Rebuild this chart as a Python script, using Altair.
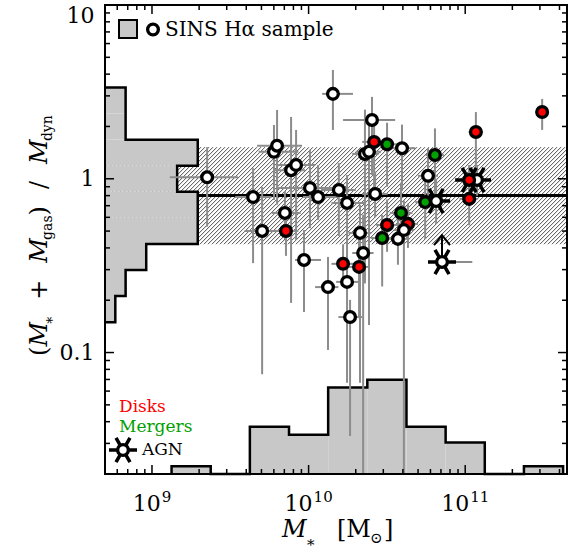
import altair as alt
import numpy as np
import pandas as pd

FONT = "DejaVu Serif"

# ---------------- data ----------------
# stellar mass [Msun], mass ratio, error ranges, class, AGN flag, lower-limit flag
mstar = [1.43e10, 2.25e9, 6.01e9, 6.29e9, 7.73e9, 8.32e9, 1.02e10, 1.15e10, 1.56e10, 1.76e10,
         4.42e9, 7.06e9, 5.05e9, 7.17e9, 9.35e9, 1.66e10, 2.10e10, 2.13e10, 2.23e10, 1.76e10,
         1.33e10, 1.84e10, 3.17e10, 4.31e10, 3.89e10, 2.95e10, 3.72e10, 4.06e10, 5.55e10, 6.52e10,
         7.11e10, 1.06e11, 1.19e11, 1.06e11, 1.17e11, 3.10e11, 2.54e10, 2.62e10, 3.17e10, 2.29e10,
         2.43e10, 3.95e10, 6.41e10, 5.79e10, 2.66e10]
ratio = [3.08, 1.02, 1.43, 1.55, 1.12, 1.20, 0.885, 0.785, 0.862, 0.726,
         0.785, 0.636, 0.501, 0.501, 0.341, 0.324, 0.311, 0.488, 0.374, 0.255,
         0.238, 0.160, 0.542, 0.550, 0.636, 0.456, 0.451, 0.507, 0.734, 0.744,
         0.332, 0.766, 0.984, 0.984, 1.86, 2.42, 2.18, 1.63, 1.58, 1.39,
         1.43, 1.50, 1.37, 1.04, 0.818]
mstar_lo = [1.22e10, 1.30e9, 4.8e9, 4.69e9, 6.0e9, 6.4e9, 6.38e9, 9.2e9, 1.2e10, 1.4e10,
            3.4e9, 5.8e9, 3.9e9, 6.1e9, 8.2e9, 1.4e10, 1.8e10, 1.8e10, 1.9e10, 1.5e10,
            1.1e10, 1.55e10, 2.7e10, 3.7e10, 3.3e10, 2.5e10, 3.2e10, 3.5e10, 4.8e10, 5.6e10,
            5.96e10, 9.2e10, 1.0e11, 9.2e10, 1.05e11, 2.8e11, 1.66e10, 2.2e10, 2.7e10, 1.9e10,
            2.0e10, 3.3e10, 5.6e10, 5.0e10, 2.2e10]
mstar_hi = [1.92e10, 3.54e9, 8.6e9, 9.08e9, 9.5e9, 1.1e10, 1.79e10, 1.55e10, 2.0e10, 2.3e10,
            5.8e9, 8.9e9, 6.4e9, 8.6e9, 1.2e10, 2.0e10, 2.4e10, 2.5e10, 2.6e10, 2.1e10,
            1.55e10, 2.2e10, 3.7e10, 5.0e10, 4.6e10, 3.5e10, 4.4e10, 4.7e10, 6.4e10, 7.6e10,
            1.11e11, 1.2e11, 1.4e11, 1.2e11, 1.3e11, 3.4e11, 3.57e10, 3.1e10, 3.7e10, 2.8e10,
            2.9e10, 4.8e10, 7.3e10, 6.7e10, 3.2e10]
ratio_lo = [1.91, 0.53, 0.755, 0.71, 0.193, 0.445, 0.52, 0.58, 0.469, 0.332,
            0.327, 0.45, 0.075, 0.36, 0.171, 0.24, 0.16, 0.067, 0.01, 0.067,
            0.1035, 0.0331, 0.38, 0.40, 0.42, 0.24, 0.32, 0.01, 0.45, 0.55,
            0.332, 0.54, 0.8, 0.8, 0.984, 1.91, 1.05, 0.8, 0.9, 0.25,
            0.144, 0.85, 0.74, 0.8, 0.6]
ratio_hi = [4.23, 1.52, 2.04, 2.49, 2.27, 1.91, 1.47, 1.20, 1.23, 1.05,
            1.15, 0.85, 0.897, 0.61, 0.507, 0.42, 0.45, 0.706, 0.62, 0.364,
            0.355, 0.201, 0.76, 0.72, 0.95, 0.62, 0.62, 0.75, 1.05, 1.0,
            0.332, 0.984, 1.2, 1.2, 2.42, 2.88, 2.96, 2.3, 2.1, 2.5,
            2.3, 2.05, 1.95, 1.5, 1.1]
kind = ["none", "none", "none", "none", "none", "none", "none", "none", "none", "none",
        "none", "none", "none", "disk", "none", "disk", "disk", "none", "none", "none",
        "none", "none", "disk", "disk", "merger", "merger", "none", "none", "merger", "none",
        "none", "disk", "none", "disk", "disk", "disk", "none", "disk", "merger", "none",
        "none", "none", "merger", "none", "none"]
agn = [0] * 29 + [1, 1, 0, 1, 1, 0, 0] + [0] * 9
lower_limit = [0] * 30 + [1] + [0] * 14

# median and scatter of the ratio
median_ratio = [0.8]
band_ratio = [0.42, 1.52]

# histograms (counts per bin)
bottom_edges = [9.125, 9.375, 9.625, 9.875, 10.125, 10.375, 10.625, 10.875, 11.125, 11.375, 11.625]
bottom_counts = [1, 0, 6, 5, 11, 12, 6, 4, 0, 1]
left_edges = [-0.825, -0.675, -0.525, -0.375, -0.225, -0.075, 0.075, 0.225, 0.375, 0.525]
left_counts = [1, 2, 4, 9, 9, 7, 9, 2, 2]

x_major = [1e9, 1e10, 1e11]
x_exponents = ["9", "10", "11"]
y_major = [0.1, 1, 10]

# ---------------- geometry / scales ----------------
XMIN, XMAX = 10 ** 8.7, 10 ** 11.65
YMIN, YMAX = 0.02, 10.0
W, H = 462, 469
HIST_X_PER_COUNT = 0.0658   # dex of x per count (left histogram)
HIST_Y_PER_COUNT = 0.0452   # dex of y per count (bottom histogram)

xs = alt.Scale(type="log", domain=[XMIN, XMAX], nice=False)
ys = alt.Scale(type="log", domain=[YMIN, YMAX], nice=False)

XAXIS = alt.Axis(values=x_major, ticks=False, tickSize=0, domain=False, grid=False, title=None,
                 labels=False)
YAXIS = alt.Axis(
    values=y_major, ticks=False, tickSize=0, domain=False, grid=False, title=None,
    labelExpr="format(datum.value, '~g')", labelFont=FONT, labelFontSize=22,
    labelColor="black", labelPadding=11, labelFlush=True)


def X(field, **kw):
    return alt.X(field, scale=xs, axis=XAXIS, **kw)


def Y(field, **kw):
    return alt.Y(field, scale=ys, axis=YAXIS, **kw)


pts = pd.DataFrame(dict(m=mstar, r=ratio, mlo=mstar_lo, mhi=mstar_hi, rlo=ratio_lo,
                        rhi=ratio_hi, kind=kind, agn=agn, lim=lower_limit))

layers = []

# hatched scatter band (decorative hatch lines)
lo, hi = band_ratio
px_x = W / np.log10(XMAX / XMIN)
px_y = H / np.log10(YMAX / YMIN)
dlog = (np.log10(hi) - np.log10(lo)) * px_y / px_x
step = 4.0 / px_x
starts = np.arange(np.log10(XMIN) - dlog - step, np.log10(XMAX) + step, step)
hatch = pd.DataFrame(dict(x1=10 ** starts, x2=10 ** (starts + dlog), y1=lo, y2=hi))
layers.append(alt.Chart(hatch).mark_rule(color="#505050", strokeWidth=1, clip=True).encode(
    x=X("x1:Q"), x2="x2:Q", y=Y("y1:Q"), y2="y2:Q"))

# median line
layers.append(alt.Chart(pd.DataFrame(dict(y=median_ratio))).mark_rule(color="black", strokeWidth=3).encode(
    y=Y("y:Q"), x=alt.value(0), x2=alt.value(W)))

# bottom histogram
b_lo = [10 ** e for e in bottom_edges[:-1]]
b_hi = [10 ** e for e in bottom_edges[1:]]
b_top = [10 ** (np.log10(YMIN) + c * HIST_Y_PER_COUNT) for c in bottom_counts]
bdf = pd.DataFrame(dict(x1=b_lo, x2=b_hi, top=b_top, base=YMIN))
layers.append(alt.Chart(bdf).mark_rect(color="#c8c8c8").encode(
    x=X("x1:Q"), x2="x2:Q", y=Y("base:Q"), y2="top:Q"))
bx = [b_lo[0]]
by = [YMIN]
for a, b, t in zip(b_lo, b_hi, b_top):
    bx += [a, b]
    by += [t, t]
bx.append(b_hi[-1])
by.append(YMIN)
bout = pd.DataFrame(dict(x=bx, y=by, i=range(len(bx))))
layers.append(alt.Chart(bout).mark_line(color="black", strokeWidth=2.5, strokeJoin="miter").encode(
    x=X("x:Q"), y=Y("y:Q"), order="i:Q"))

# left histogram
l_lo = [10 ** e for e in left_edges[:-1]]
l_hi = [10 ** e for e in left_edges[1:]]
l_right = [10 ** (np.log10(XMIN) + c * HIST_X_PER_COUNT) for c in left_counts]
ldf = pd.DataFrame(dict(y1=l_lo, y2=l_hi, right=l_right, base=XMIN))
layers.append(alt.Chart(ldf).mark_rect(color="#c8c8c8").encode(
    y=Y("y1:Q"), y2="y2:Q", x=X("base:Q"), x2="right:Q"))
lx = [XMIN]
ly = [l_lo[0]]
for a, b, r in zip(l_lo, l_hi, l_right):
    lx += [r, r]
    ly += [a, b]
lx.append(XMIN)
ly.append(l_hi[-1])
lout = pd.DataFrame(dict(x=lx, y=ly, i=range(len(lx))))
layers.append(alt.Chart(lout).mark_line(color="black", strokeWidth=2.5, strokeJoin="miter").encode(
    x=X("x:Q"), y=Y("y:Q"), order="i:Q"))

# error bars
err = alt.Chart(pts)
layers.append(err.mark_rule(color="#8c8c8c", strokeWidth=2, clip=True).encode(
    x=X("m:Q"), y=Y("rlo:Q"), y2="rhi:Q"))
layers.append(err.mark_rule(color="#8c8c8c", strokeWidth=2, clip=True).encode(
    x=X("mlo:Q"), x2="mhi:Q", y=Y("r:Q")))

# lower-limit arrow
lim = pts[pts.lim == 1].copy()
lim["tip"] = lim["r"] * 10 ** 0.155
layers.append(alt.Chart(lim).mark_rule(color="black", strokeWidth=2).encode(
    x=X("m:Q"), y=Y("r:Q"), y2="tip:Q"))
layers.append(alt.Chart(lim).mark_point(shape="M-0.8,1L0,0L0.8,1", size=400, filled=False,
                                        color="black", strokeWidth=2, opacity=1).encode(
    x=X("m:Q"), y=Y("tip:Q")))

STAR = "M-1,0L1,0M-0.5,-0.866L0.5,0.866M-0.5,0.866L0.5,-0.866"
layers.append(alt.Chart(pts[pts.agn == 1]).mark_point(shape=STAR, size=784, filled=False, color="black",
                                                    strokeWidth=3.5, opacity=1).encode(
    x=X("m:Q"), y=Y("r:Q")))

# data points
layers.append(alt.Chart(pts).mark_point(shape="circle", size=115, filled=True, stroke="black",
                                        strokeWidth=3.3, opacity=1).encode(
    x=X("m:Q"), y=Y("r:Q"),
    fill=alt.Fill("kind:N", scale=alt.Scale(domain=["none", "disk", "merger"],
                                            range=["white", "#ff0000", "#00a000"]), legend=None)))

# ticks on all four sides
x_minor = [k * 10.0 ** e for e in (8, 9, 10, 11) for k in range(2, 10) if XMIN < k * 10.0 ** e < XMAX]
y_minor = [k * 10.0 ** e for e in (-2, -1, 0) for k in range(2, 10) if YMIN <= k * 10.0 ** e < YMAX]
for vals, L in ((x_major, 9), (x_minor, 5)):
    d = pd.DataFrame(dict(v=vals))
    layers.append(alt.Chart(d).mark_rule(color="black", strokeWidth=1.5).encode(
        x=X("v:Q"), y=alt.value(H), y2=alt.value(H - L)))
    layers.append(alt.Chart(d).mark_rule(color="black", strokeWidth=1.5).encode(
        x=X("v:Q"), y=alt.value(0), y2=alt.value(L)))
for vals, L in ((y_major, 9), (y_minor, 5)):
    d = pd.DataFrame(dict(v=vals))
    layers.append(alt.Chart(d).mark_rule(color="black", strokeWidth=1.5).encode(
        y=Y("v:Q"), x=alt.value(0), x2=alt.value(L)))
    layers.append(alt.Chart(d).mark_rule(color="black", strokeWidth=1.5).encode(
        y=Y("v:Q"), x=alt.value(W), x2=alt.value(W - L)))

# x tick labels: "10" with a raised exponent
for v, e in zip(x_major, x_exponents):
    half = (28 + 1 + 9.5 * len(e)) / 2
    d = pd.DataFrame(dict(v=[v], base=["10"], exp=[e]))
    layers.append(alt.Chart(d).mark_text(font=FONT, fontSize=22, align="right", baseline="alphabetic",
                                         dx=28 - half, color="black").encode(
        x=X("v:Q"), y=alt.value(506), text="base:N"))
    layers.append(alt.Chart(d).mark_text(font=FONT, fontSize=15, align="left", baseline="alphabetic",
                                         dx=29 - half, color="black").encode(
        x=X("v:Q"), y=alt.value(497), text="exp:N"))

# frame
layers.append(alt.Chart(pd.DataFrame({"a": [0]})).mark_rect(fill="white", fillOpacity=0, stroke="black",
                                                           strokeWidth=2).encode(
    x=alt.value(0), x2=alt.value(W), y=alt.value(0), y2=alt.value(H)))


def txt(s, x, y, size, color="black", style="normal", angle=0, align="left", baseline="alphabetic"):
    return alt.Chart(pd.DataFrame({"t": [s]})).mark_text(
        font=FONT, fontSize=size, fontStyle=style, color=color, angle=angle, align=align,
        baseline=baseline).encode(x=alt.value(x), y=alt.value(y), text="t:N")


# top legend
layers.append(alt.Chart(pd.DataFrame({"a": [0]})).mark_rect(color="#c8c8c8", stroke="black", strokeWidth=2).encode(
    x=alt.value(14), x2=alt.value(32), y=alt.value(15), y2=alt.value(33)))
layers.append(alt.Chart(pd.DataFrame({"a": [0]})).mark_point(shape="circle", size=115, filled=True, fill="white",
                                                           stroke="black", strokeWidth=3.3, opacity=1).encode(
    x=alt.value(48), y=alt.value(24.5)))
layers.append(txt("SINS Hα sample", 60, 25, 20, baseline="middle"))

# bottom-left legend
layers.append(txt("Disks", 14, 402, 17, color="#ff0000", baseline="middle"))
layers.append(txt("Mergers", 14, 422, 17, color="#00a000", baseline="middle"))
layers.append(alt.Chart(pd.DataFrame({"a": [0]})).mark_point(shape=STAR, size=784, filled=False, color="black",
                                                           strokeWidth=3.5, opacity=1).encode(
    x=alt.value(18), y=alt.value(445)))
layers.append(alt.Chart(pd.DataFrame({"a": [0]})).mark_point(shape="circle", size=115, filled=True, fill="white",
                                                           stroke="black", strokeWidth=3.3, opacity=1).encode(
    x=alt.value(18), y=alt.value(445)))
layers.append(txt("AGN", 37, 445, 17, baseline="middle"))

# x-axis title:  M_*  [M_sun]
layers.append(txt("M", 177, 532, 24, style="italic"))
layers.append(txt("*", 202, 545, 15))
layers.append(txt("[M", 232, 532, 24))
layers.append(txt("⊙", 265, 538, 15))
layers.append(txt("]", 279, 532, 24))

# y-axis title:  (M_* + M_gas) / M_dyn   (rotated)
BX = -58
layers.append(txt("(", BX, 351, 24, angle=270))
layers.append(txt("M", BX, 341.6, 24, angle=270, style="italic"))
layers.append(txt("*", BX + 10, 318.8, 14, angle=270))
layers.append(txt("+", BX, 294.8, 24, angle=270))
layers.append(txt("M", BX, 257.7, 24, angle=270, style="italic"))
layers.append(txt("gas", BX + 5, 234.9, 14, angle=270))
layers.append(txt(")", BX, 210.4, 24, angle=270))
layers.append(txt("/", BX, 184, 24, angle=270))
layers.append(txt("M", BX, 158.9, 24, angle=270, style="italic"))
layers.append(txt("dyn", BX + 5, 136.1, 14, angle=270))

chart = alt.layer(*layers).properties(
    width=W, height=H, autosize="none",
    padding={"left": 105, "top": 5, "right": 2, "bottom": 80},
).configure_view(stroke=None).configure(background="white")

chart.save("out.html", embed_options={"renderer": "svg", "actions": False})
